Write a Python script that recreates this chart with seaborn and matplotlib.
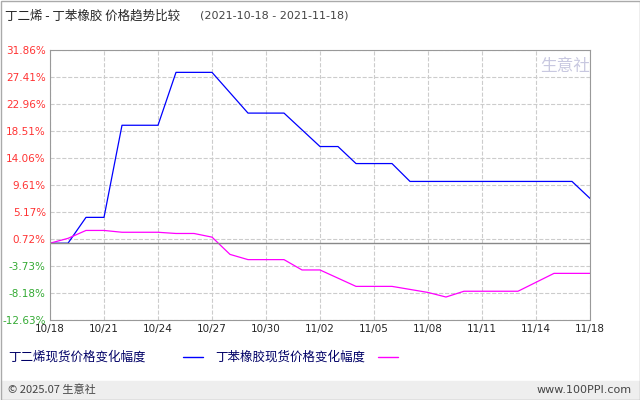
import matplotlib
matplotlib.use("Agg")
import matplotlib.pyplot as plt
import seaborn as sns
import pandas as pd

sns.set_style("white")
plt.rcParams['font.family'] = ['Noto Sans CJK SC', 'DejaVu Sans']

blue_days = [0, 1, 2, 3, 4, 6, 7, 9, 11, 13, 15, 16, 17, 19, 20, 29, 30]
blue_vals = [0, 0, 4.25, 4.25, 19.4, 19.4, 28.1, 28.1, 21.4, 21.4, 15.9, 15.9, 13.1, 13.1, 10.16, 10.16, 7.37]
mag_days = [0, 1, 2, 3, 4, 6, 7, 8, 9, 10, 11, 13, 14, 15, 17, 19, 21, 22, 23, 26, 28, 30]
mag_vals = [0, 0.8, 2.1, 2.1, 1.8, 1.8, 1.6, 1.6, 1.0, -1.84, -2.7, -2.7, -4.4, -4.4, -7.1, -7.1, -8.1, -8.85, -7.9, -7.9, -4.96, -4.96]
yticks = [31.86, 27.41, 22.96, 18.51, 14.06, 9.61, 5.17, 0.72, -3.73, -8.18, -12.63]
xtick_pos = [0, 3, 6, 9, 12, 15, 18, 21, 24, 27, 30]
xtick_labels = ["10/18", "10/21", "10/24", "10/27", "10/30", "11/02", "11/05", "11/08", "11/11", "11/14", "11/18"]

fig = plt.figure(figsize=(6.4, 4.0), dpi=100)
ax = fig.add_axes([50/640, 1-320/400, 540/640, 270.5/400])
sns.lineplot(x=blue_days, y=blue_vals, ax=ax, color="#0000ff", lw=0.9)
sns.lineplot(x=mag_days, y=mag_vals, ax=ax, color="#ff00ff", lw=0.9)
ax.axhline(0, color="#888888", lw=1)
ax.set_xlim(0, 30)
ax.set_ylim(-12.63, 31.86)
ax.set_yticks(yticks)
ax.set_yticklabels([f"{v:.2f}%" for v in yticks], fontsize=7.5, family=['DejaVu Sans'])
for t, v in zip(ax.get_yticklabels(), yticks):
    t.set_color("#ff3333" if v > 0 else "#33aa33")
ax.set_xticks(xtick_pos)
ax.set_xticklabels(xtick_labels, fontsize=7.5, family=['DejaVu Sans'])
ax.tick_params(length=0, pad=3)
ax.grid(True, color="#cccccc", ls="--", lw=0.8)
for s in ax.spines.values():
    s.set_color("#999999")

fig.text(5/640, 1-16/400, "丁二烯 - 丁苯橡胶 价格趋势比较", fontsize=9, va="center")
fig.text(200/640, 1-16/400, "(2021-10-18 - 2021-11-18)", fontsize=8, va="center", color="#444444", family=['DejaVu Sans'])
fig.text(8/640, 1-357/400, "丁二烯现货价格变化幅度", fontsize=9, va="center", color="#000066")
fig.add_artist(plt.Line2D([183/640, 203/640], [1-357/400]*2, color="#0000ff", lw=1))
fig.text(215/640, 1-357/400, "丁苯橡胶现货价格变化幅度", fontsize=9, va="center", color="#000066")
fig.add_artist(plt.Line2D([378/640, 398/640], [1-357/400]*2, color="#ff00ff", lw=1))
fig.add_artist(plt.Rectangle((1/640, 1/400), 638/640, 18/400, color="#eeeeee", zorder=0))
fig.text(8/640, 10/400, "© 2025.07 生意社", fontsize=8, va="center", color="#444444")
fig.text(632/640, 10/400, "www.100PPI.com", fontsize=8, va="center", ha="right", color="#444444", family=['DejaVu Sans'])
fig.add_artist(plt.Rectangle((0.5/640, 0.5/400), 639/640, 399/400, fill=False, ec="#aaaaaa", lw=1))
fig.text(540/640, 1-66/400, "生意社", fontsize=12, color="#c8c8e0", va="center")
fig.savefig("out.png", dpi=100)
